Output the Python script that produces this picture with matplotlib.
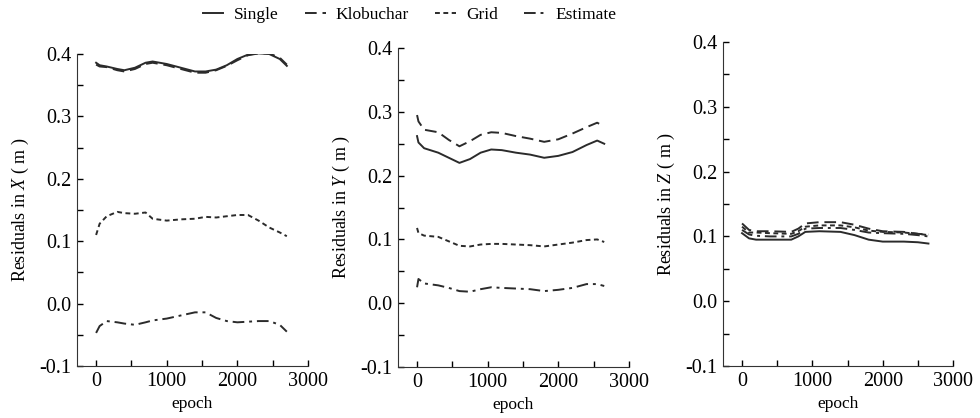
import matplotlib
matplotlib.use("Agg")
import matplotlib.pyplot as plt
from matplotlib.ticker import MultipleLocator, FormatStrFormatter

# epochs and residuals
epoch_x = [0, 50, 150, 300, 400, 550, 700, 800, 1000, 1200, 1400, 1550, 1700, 1850, 2000, 2150, 2300, 2450, 2600, 2700]
single_x = [0.386, 0.382, 0.380, 0.376, 0.374, 0.378, 0.386, 0.388, 0.384, 0.378, 0.372, 0.372, 0.375, 0.382, 0.392, 0.399, 0.401, 0.400, 0.392, 0.381]
klobuchar_x = [0.383, 0.380, 0.379, 0.374, 0.372, 0.376, 0.384, 0.386, 0.382, 0.376, 0.370, 0.370, 0.374, 0.381, 0.390, 0.398, 0.401, 0.401, 0.394, 0.383]
grid_x = [0.110, 0.128, 0.140, 0.147, 0.145, 0.144, 0.146, 0.136, 0.133, 0.135, 0.136, 0.139, 0.138, 0.140, 0.142, 0.142, 0.133, 0.122, 0.114, 0.108]
estimate_x = [-0.047, -0.036, -0.028, -0.030, -0.032, -0.034, -0.030, -0.027, -0.024, -0.019, -0.014, -0.014, -0.023, -0.028, -0.030, -0.029, -0.028, -0.028, -0.034, -0.045]

epoch_y = [0, 20, 100, 300, 450, 600, 750, 900, 1050, 1200, 1400, 1600, 1800, 2000, 2200, 2400, 2550, 2650]
single_y = [0.262, 0.252, 0.243, 0.236, 0.228, 0.220, 0.226, 0.236, 0.241, 0.240, 0.236, 0.233, 0.228, 0.231, 0.237, 0.248, 0.255, 0.250]
klobuchar_y = [0.295, 0.285, 0.272, 0.268, 0.256, 0.246, 0.254, 0.264, 0.268, 0.267, 0.262, 0.258, 0.253, 0.257, 0.266, 0.276, 0.283, 0.277]
grid_y = [0.118, 0.110, 0.106, 0.104, 0.097, 0.090, 0.089, 0.092, 0.093, 0.093, 0.092, 0.091, 0.089, 0.092, 0.095, 0.099, 0.100, 0.096]
estimate_y = [0.025, 0.038, 0.031, 0.028, 0.024, 0.019, 0.018, 0.022, 0.025, 0.024, 0.023, 0.022, 0.019, 0.021, 0.024, 0.030, 0.030, 0.027]

epoch_z = [0, 100, 200, 400, 700, 800, 900, 1100, 1400, 1600, 1800, 2000, 2300, 2500, 2650]
single_z = [0.105, 0.097, 0.095, 0.095, 0.095, 0.100, 0.107, 0.108, 0.107, 0.102, 0.095, 0.092, 0.092, 0.091, 0.089]
klobuchar_z = [0.120, 0.110, 0.108, 0.108, 0.107, 0.112, 0.120, 0.122, 0.122, 0.118, 0.112, 0.108, 0.107, 0.104, 0.103]
grid_z = [0.115, 0.106, 0.106, 0.105, 0.104, 0.108, 0.115, 0.117, 0.117, 0.114, 0.109, 0.107, 0.106, 0.104, 0.102]
estimate_z = [0.110, 0.103, 0.101, 0.100, 0.100, 0.104, 0.112, 0.113, 0.113, 0.110, 0.106, 0.105, 0.104, 0.102, 0.100]

series_names = ["Single", "Klobuchar", "Grid", "Estimate"]
components = ["X", "Y", "Z"]

plt.rcParams["font.family"] = ["Liberation Serif", "Noto Sans CJK SC"]
plt.rcParams["mathtext.fontset"] = "custom"
plt.rcParams["mathtext.rm"] = "Liberation Serif"
plt.rcParams["mathtext.it"] = "Liberation Serif:italic"
plt.rcParams["axes.unicode_minus"] = False

line_color = "#2b2b2b"
styles = [
    dict(linestyle="-"),
    dict(linestyle=(0, (6, 3))),
    dict(linestyle=(0, (2.5, 1.8))),
    dict(linestyle=(0, (6, 2.5, 1.5, 2.5))),
]

panels = [
    (epoch_x, [single_x, klobuchar_x, grid_x, estimate_x]),
    (epoch_y, [single_y, klobuchar_y, grid_y, estimate_y]),
    (epoch_z, [single_z, klobuchar_z, grid_z, estimate_z]),
]
axes_boxes = [
    (0.0786, 0.1244, 0.2357, 0.7464),
    (0.4061, 0.1220, 0.2357, 0.7630),
    (0.7378, 0.1244, 0.2347, 0.7750),
]

fig = plt.figure(figsize=(9.8, 4.18), dpi=100)
for box, comp, (epochs, values) in zip(axes_boxes, components, panels):
    ax = fig.add_axes(box)
    for name, vals, st in zip(series_names, values, styles):
        ax.plot(epochs, vals, color=line_color, linewidth=1.4, label=name, **st)
    ax.set_xlim(-270, 3000)
    ax.set_ylim(-0.1, 0.4)
    ax.xaxis.set_major_locator(MultipleLocator(1000))
    ax.xaxis.set_minor_locator(MultipleLocator(500))
    ax.yaxis.set_major_locator(MultipleLocator(0.1))
    ax.yaxis.set_minor_locator(MultipleLocator(0.05))
    ax.yaxis.set_major_formatter(FormatStrFormatter("%.1f"))
    ax.tick_params(which="both", direction="in", length=4, width=1, labelsize=14.5, pad=4)
    ax.spines["top"].set_visible(False)
    ax.spines["right"].set_visible(False)
    ax.spines["left"].set_color("#333333")
    ax.spines["bottom"].set_color("#333333")
    ax.set_xlabel("epoch", fontsize=12.5, labelpad=4)
    ax.set_ylabel(f"Residuals in ${comp}$ ( m )", fontsize=13, labelpad=6)

handles, labels = fig.axes[0].get_legend_handles_labels()
fig.legend(handles, labels, loc="upper center", bbox_to_anchor=(0.418, 1.02), ncol=4,
           frameon=False, handlelength=1.2, columnspacing=1.5, handletextpad=0.6, fontsize=12.5)

fig.savefig("out.png", dpi=100)
